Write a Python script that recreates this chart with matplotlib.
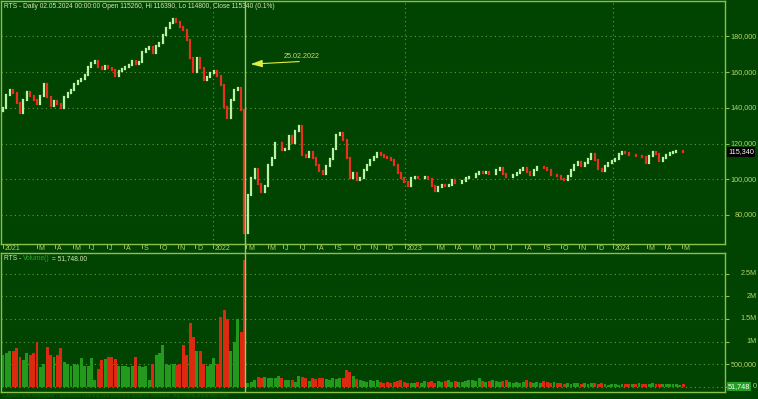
import matplotlib.pyplot as plt
from matplotlib.transforms import blended_transform_factory

# RTS index, one point every ~4 sessions (Jan 2021 - May 2024)
closes = [
    139800, 147000, 149800, 148200, 142600, 137000, 144200, 148700, 146500, 144200,
    142000, 146500, 153200, 145900, 140900, 143700, 142000, 139800, 145900, 148200,
    149800, 153200, 154900, 156000, 158200, 162700, 164900, 166000, 162700, 161600,
    163200, 162100, 161000, 157700, 160400, 161600, 162700, 163800, 166000, 164400,
    165500, 171100, 172700, 173900, 170500, 174400, 176100, 180600, 184500, 187300,
    189500, 187800, 185000, 183400, 177800, 167700, 159900, 167700, 162100, 155400,
    157100, 159300, 160400, 157700, 152600, 140300, 134200, 144200, 149800, 151000,
    138650, 69900,
    # after the break (trading resumed 24.03.2022)
    91200, 100700, 105700, 97300, 92800, 96200, 107900, 111800, 120200, 120200,
    116300, 116900, 124100, 120200, 126900, 129700, 113500, 112400, 115200, 111800,
    107900, 104600, 102900, 107400, 111300, 116900, 124700, 125800, 121900, 111800,
    100700, 103500, 99550, 100700, 105100, 107900, 110700, 112400, 114600, 113500,
    112400, 111800, 110700, 107900, 103500, 100700, 98400, 96200, 100700, 101200,
    100700, 100700, 101200, 100100, 96200, 93400, 95600, 96750, 96200, 96750,
    99550, 97900, 97900, 99000, 100700, 101200, 101200, 102900, 104000, 103500,
    104000, 102900, 102900, 105100, 106250, 102900, 101200, 101200, 102300, 103500,
    105100, 106250, 104000, 102300, 105100, 106800, 106800, 106250, 105100, 102300,
    102300, 101800, 100100, 99550, 101800, 105100, 107900, 109600, 107400, 109000,
    111300, 114100, 110700, 105700, 104600, 107400, 109000, 110200, 111300, 114100,
    115200, 114600, 113500, 113500, 112900, 112900, 112400, 109000, 112900, 115200,
    114100, 110200, 111800, 113500, 114600, 115200, 115750, 115750, 115340,
]
first_open = 138000

# volume, thousands of contracts
volumes_k = [
    700, 750, 780, 800, 850, 650, 600, 740, 700, 750,
    1000, 440, 500, 880, 700, 650, 700, 850, 550, 500,
    450, 500, 480, 630, 450, 450, 630, 150, 400, 600,
    620, 650, 650, 620, 450, 450, 450, 430, 450, 650,
    450, 430, 450, 150, 500, 700, 740, 920, 500, 480,
    500, 480, 500, 920, 700, 1400, 1100, 800, 800, 500,
    450, 500, 630, 500, 1550, 1700, 1500, 800, 1000, 1500,
    1200, 2800,
    75, 110, 150, 220, 185, 220, 185, 185, 185, 235,
    185, 150, 150, 150, 110, 235, 220, 185, 135, 185,
    165, 185, 185, 165, 150, 185, 165, 185, 185, 370,
    330, 235, 165, 150, 135, 110, 150, 135, 150, 110,
    90, 110, 75, 110, 135, 150, 110, 75, 90, 90,
    110, 90, 135, 110, 135, 90, 135, 110, 135, 150,
    110, 135, 110, 110, 135, 150, 150, 135, 185, 135,
    110, 135, 150, 135, 110, 135, 150, 110, 90, 110,
    90, 110, 150, 110, 90, 110, 90, 135, 110, 90,
    110, 90, 75, 60, 75, 60, 90, 75, 60, 75,
    60, 75, 90, 60, 75, 60, 45, 60, 60, 45,
    52, 60, 52, 60, 52, 75, 60, 52, 60, 75,
    60, 52, 52, 60, 52, 52, 52, 45, 52,
]

month_labels = ['2021', 'M', 'A', 'M', 'J', 'J', 'A', 'S', 'O', 'N', 'D', '2022',
                'M', 'M', 'J', 'J', 'A', 'S', 'O', 'N', 'D', '2023',
                'M', 'A', 'M', 'J', 'J', 'A', 'S', 'O', 'N', 'D', '2024',
                'M', 'A', 'M']
month_pos = [0, 10.0, 15.3, 20.6, 25.3, 30.6, 35.6, 40.9, 46.2, 51.5, 56.5, 61.8,
             71.5, 77.9, 82.4, 87.4, 92.4, 97.6, 103.2, 108.2, 112.6, 118.2,
             127.6, 132.9, 138.2, 143.2, 148.2, 153.5, 159.1, 164.1, 169.4, 174.7, 179.4,
             189.4, 194.7, 199.7]
year_pos = [61.8, 118.2, 179.4]
break_pos = 71.2

price_ticks = [80000, 100000, 120000, 140000, 160000, 180000]
vol_ticks = [0, 500000, 1000000, 1500000, 2000000, 2500000]
vol_tick_labels = ['0', '500,000', '1M', '1.5M', '2M', '2.5M']

BG = '#014401'
FRAME = '#8cc04c'
GRID = '#5d9a3c'
LABEL = '#b4d46a'
UP = '#b8f2a4'
DOWN = '#e8301a'

plt.rcParams['font.family'] = ['Liberation Sans', 'DejaVu Sans']

W, H = 758, 399
fig = plt.figure(figsize=(W / 100, H / 100), dpi=100)
fig.patch.set_facecolor(BG)


def box(left, top, right, bottom):
    return [left / W, 1 - bottom / H, (right - left) / W, (bottom - top) / H]


ax = fig.add_axes(box(1, 0.5, 725, 244))
axv = fig.add_axes(box(1, 253, 725, 392))
LAB_X = (757 - 1) / 724  # right edge of the axis labels, in axes fraction

x = list(range(len(closes)))
opens = [first_open] + closes[:-1]

for a in (ax, axv):
    a.set_facecolor(BG)
    a.set_xlim(-0.6, 212.3)
    for s in a.spines.values():
        s.set_color(FRAME)
        s.set_linewidth(1)
    a.tick_params(axis='x', bottom=False, labelbottom=False)
    a.yaxis.tick_right()
    a.tick_params(axis='y', colors=FRAME, length=3, width=0.8,
                  labelright=False, labelleft=False)
    a.axvline(break_pos, color='#9cc86a', lw=1, zorder=5)

# price panel
ax.set_ylim(63790, 200113)
ax.set_yticks(price_ticks)
tr = blended_transform_factory(ax.transAxes, ax.transData)
for t in price_ticks:
    ax.axhline(t, color=GRID, lw=0.8, ls=(0, (1, 3)), zorder=1)
    ax.text(LAB_X, t, f'{t:,}', transform=tr, fontsize=5.2, color=LABEL,
            ha='right', va='center', clip_on=False)
for xp in year_pos:
    ax.axvline(xp, color=GRID, lw=0.8, ls=(0, (1, 3)), zorder=1)

cols = [UP if c >= o else DOWN for o, c in zip(opens, closes)]
ax.vlines(x, opens, closes, colors=cols, lw=1.6, capstyle='projecting', zorder=3)

# last price tag
ax.text(1.004, closes[-1], f'{closes[-1]:,}', transform=tr, fontsize=5.2,
        color='white', va='center', ha='left', clip_on=False,
        bbox=dict(boxstyle='square,pad=0.15', fc='black', ec='none'))

ax.annotate('', xy=(72.0, 164400), xytext=(87.9, 166000),
            arrowprops=dict(arrowstyle='-|>,head_length=0.7,head_width=0.22',
                            color='#e0f040', lw=0.8))
ax.text(82.4, 168900, '25.02.2022', fontsize=5.2, color='#c4dc70',
        va='center', ha='left')

ax.text(0.004, 0.99, 'RTS - Daily 02.05.2024 00:00:00 Open 115260, Hi 116390, '
        'Lo 114800, Close 115340 (0.1%)', transform=ax.transAxes,
        fontsize=4.8, color='#d4e8b8', va='top', ha='left')

# month strip under the price panel
trx = blended_transform_factory(ax.transData, ax.transAxes)
ax.axvline(break_pos, ymin=-0.04, ymax=0, color='#9cc86a', lw=1, clip_on=False)
for p, lab in zip(month_pos, month_labels):
    ax.plot([p, p], [-0.004, -0.016], transform=trx, color=LABEL, lw=0.6,
            clip_on=False)
    ax.text(p + 0.5, -0.019, lab, transform=trx, fontsize=5, color=LABEL,
            va='center', ha='left', clip_on=False)

# volume panel
vol = [v * 1000 for v in volumes_k]
axv.set_ylim(-117000, 2958000)
axv.set_yticks(vol_ticks)
trv = blended_transform_factory(axv.transAxes, axv.transData)
for t, lab in zip(vol_ticks, vol_tick_labels):
    axv.axhline(t, color=GRID, lw=0.8, ls=(0, (1, 3)), zorder=1)
    axv.text(LAB_X, t, lab, transform=trv, fontsize=5.2, color=LABEL,
             ha='right', va='center', clip_on=False)
vcols = ['#239a1e' if c >= o else '#dc2a10' for o, c in zip(opens, closes)]
axv.bar(x, vol, width=0.85, color=vcols, zorder=3)

axv.text(1.004, 0, '51,748', transform=trv, fontsize=5.2, color='white',
         va='center', ha='left', clip_on=False,
         bbox=dict(boxstyle='square,pad=0.15', fc='#22a022', ec='none'))

t1 = axv.text(0.004, 0.985, 'RTS - ', transform=axv.transAxes, fontsize=4.8,
              color='#d4e8b8', va='top', ha='left')
t2 = axv.annotate('Volume()', xycoords=t1, xy=(1, 0), va='bottom', ha='left',
                  fontsize=4.8, color='#2fa02f')
axv.annotate(' = 51,748.00', xycoords=t2, xy=(1, 0), va='bottom', ha='left',
             fontsize=4.8, color='#d4e8b8')

fig.text(3 / W, 1 - 396 / H, 'Created with AmiBroker - advanced charting and technical '
         'analysis software. http://www.amibroker.com', fontsize=3.5,
         color='#0f6a12', va='center', ha='left')

fig.savefig('out.png', dpi=100, facecolor=BG)
